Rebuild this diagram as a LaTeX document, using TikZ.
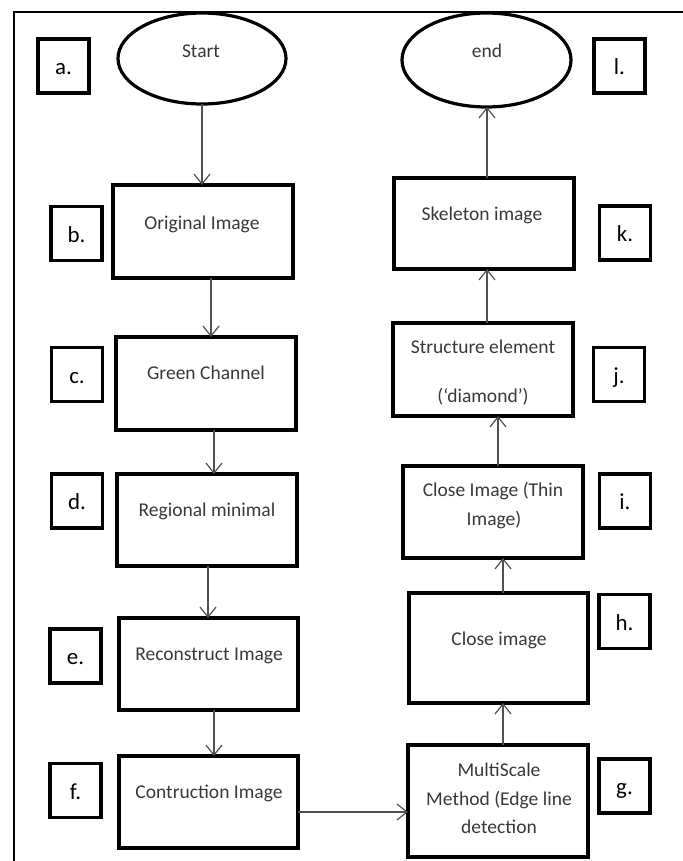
\documentclass[tikz,border=0pt]{standalone}
\usepackage{fontspec}
\setmainfont{Carlito}
\usetikzlibrary{shapes.geometric,arrows.meta}
\definecolor{txtgray}{HTML}{383838}
\definecolor{arrgray}{HTML}{505050}
\begin{document}
\begin{tikzpicture}[x=1bp,y=-1bp,
  every node/.style={inner sep=0pt,outer sep=0pt},
  box/.style={draw,line width=3.2bp,rectangle},
  lab/.style={draw,line width=3.2bp,rectangle,minimum width=51bp,minimum height=54bp,
    font=\fontsize{23}{27}\selectfont,text height=17bp,text depth=0pt},
  oval/.style={draw,ellipse,line width=3.2bp},
  txt/.style={anchor=base,font=\fontsize{19.6}{23}\selectfont,text=txtgray},
  arr/.style={draw=arrgray,line width=1.2bp,-{Straight Barb[length=10bp,width=16bp,line width=1.2bp]}}]
\useasboundingbox (0,0) rectangle (683,861);
\coordinate (fr1) at (683,12);
\coordinate (fr2) at (14,12);
\coordinate (fr3) at (14,861);
\draw[line width=2.4bp] (fr1) -- (fr2) -- (fr3);

% ovals
\node[oval,minimum width=168bp,minimum height=91bp] (start) at (202,58.5) {};
\node[txt] (startT) at (201,57) {Start};
\node[oval,minimum width=169bp,minimum height=94bp] (end) at (486.5,60) {};
\node[txt] (endT) at (487,57) {end};

% left column boxes
\node[box,minimum width=180bp,minimum height=93bp] (b) at (203,231.5) {};
\node[txt] (bT) at (202,229) {Original Image};
\node[box,minimum width=180bp,minimum height=93bp] (c) at (206,383.5) {};
\node[txt] (cT) at (206,379) {Green Channel};
\node[box,minimum width=180bp,minimum height=92bp] (d) at (207,520) {};
\node[txt] (dT) at (207,516) {Regional minimal};
\node[box,minimum width=179bp,minimum height=92bp] (e) at (208.5,664) {};
\node[txt] (eT) at (209,660) {Reconstruct Image};
\node[box,minimum width=179bp,minimum height=92bp] (f) at (208.5,802) {};
\node[txt] (fT) at (209,798) {Contruction Image};

% right column boxes
\node[box,minimum width=180bp,minimum height=112bp] (g) at (498,801) {};
\node[txt] (gT1) at (499,776) {MultiScale};
\node[txt] (gT2) at (499,805) {Method (Edge line};
\node[txt] (gT3) at (499,833) {detection};
\node[box,minimum width=179bp,minimum height=110bp] (h) at (498.5,648) {};
\node[txt] (hT) at (499,645) {Close image};
\node[box,minimum width=180bp,minimum height=92bp] (i) at (493,512) {};
\node[txt] (iT1) at (493,496) {Close Image (Thin};
\node[txt] (iT2) at (494,525) {Image)};
\node[box,minimum width=180bp,minimum height=93bp] (j) at (483,369.5) {};
\node[txt] (jT1) at (483,353) {Structure element};
\node[txt] (jT2) at (483,402) {(‘diamond’)};
\node[box,minimum width=180bp,minimum height=91bp] (k) at (484,223.5) {};
\node[txt] (kT) at (482,220) {Skeleton image};

% letter labels
\node[lab] (la) at (63.5,66) {a.};
\node[lab] (lb) at (76.5,233.5) {b.};
\node[lab] (lc) at (77,374.5) {c.};
\node[lab] (ld) at (77,501) {d.};
\node[lab] (le) at (75.5,656) {e.};
\node[lab] (lf) at (75.5,790.5) {f.};
\node[lab] (lg) at (624.5,786) {g.};
\node[lab] (lh) at (624.5,621.5) {h.};
\node[lab] (li) at (625,501) {i.};
\node[lab] (lj) at (619,374.5) {j.};
\node[lab] (lk) at (625,233) {k.};
\node[lab] (ll) at (619.5,66) {l.};

% connectors
\draw[arr] (start.south) -- (start.south |- b.north);
\draw[arr] ([xshift=8bp]b.south) -- ([xshift=8bp]b.south |- c.north);
\draw[arr] ([xshift=8bp]c.south) -- ([xshift=8bp]c.south |- d.north);
\draw[arr] ([xshift=1bp]d.south) -- ([xshift=1bp]d.south |- e.north);
\draw[arr] ([xshift=5.5bp]e.south) -- ([xshift=5.5bp]e.south |- f.north);
\draw[arr] ([yshift=-10bp]f.east) -- ([yshift=-10bp]f.east -| g.west);
\draw[arr] ([xshift=5bp]g.north) -- ([xshift=5bp]g.north |- h.south);
\draw[arr] ([xshift=4.5bp]h.north) -- ([xshift=4.5bp]h.north |- i.south);
\draw[arr] ([xshift=5bp]i.north) -- ([xshift=5bp]i.north |- j.south);
\draw[arr] ([xshift=4bp]j.north) -- ([xshift=4bp]j.north |- k.south);
\draw[arr] ([xshift=3bp]k.north) -- ([xshift=3bp]k.north |- end.south);
\end{tikzpicture}
\end{document}
